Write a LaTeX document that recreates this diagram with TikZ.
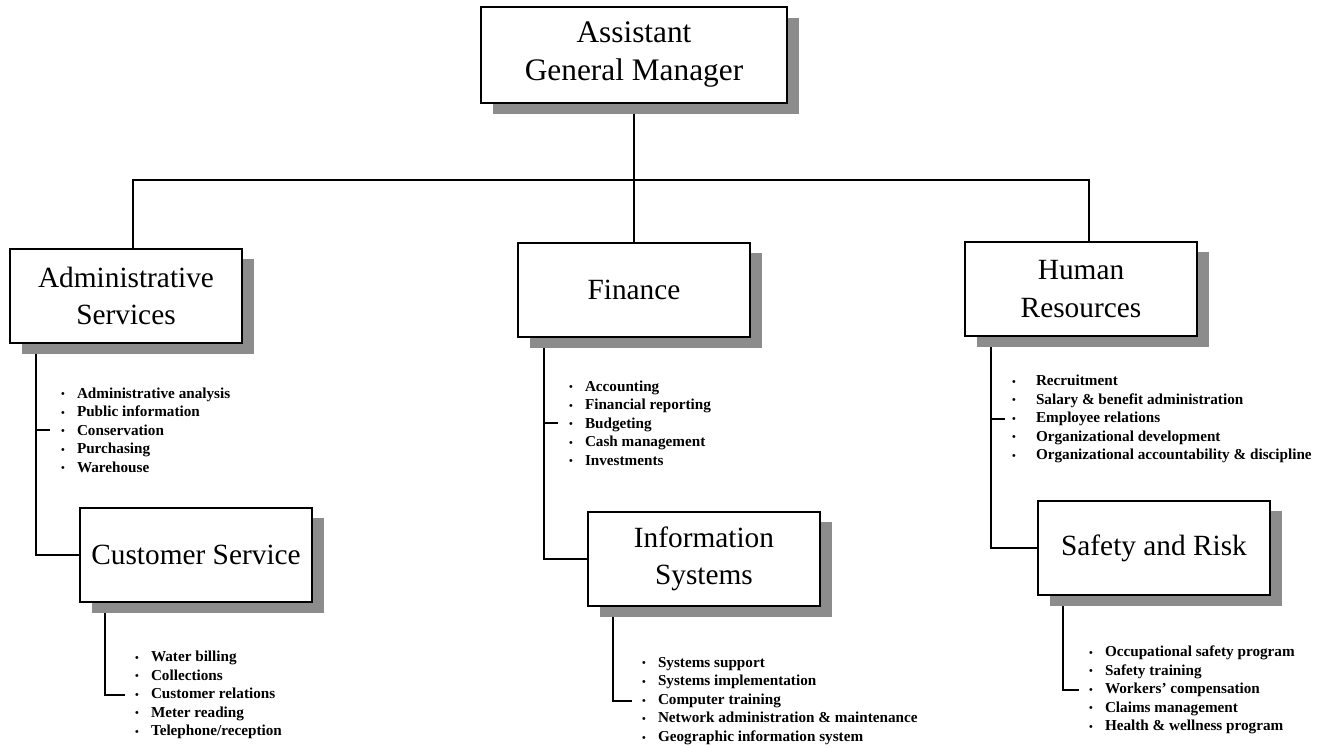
\documentclass[tikz,border=0pt]{standalone}
\usepackage{fontspec}
\setmainfont{Liberation Serif}
\usetikzlibrary{shadows,backgrounds}
\newlength{\bulletgap}
\setlength{\bulletgap}{12pt}
\newcommand{\itm}[1]{\makebox[\bulletgap][l]{\raisebox{.05ex}{\footnotesize\textbullet}}#1}

\begin{document}
\begin{tikzpicture}[x=0.75pt,y=-0.75pt,line width=1.5pt,
        box/.style = {draw,fill=white,line width=1.5pt,minimum width=174pt,minimum height=71pt,align=center,
            font = {\fontsize{22}{28}\selectfont},
            drop shadow = {shadow xshift=9pt,shadow yshift=-8pt,fill=black!45,opacity=1}},
        duties/.style = {anchor=west,align=left,inner sep=0pt,font = {\bfseries\fontsize{11.4}{13.9}\selectfont}},
        wire/.style = {line width=1.5pt}]
        \useasboundingbox (0,0) rectangle (1323,747);
        \node[box,minimum width=229pt,minimum height=72pt,text depth=6pt,font = {\fontsize{23.5}{28.5}\selectfont}] (agm) at (634,55) {Assistant\\General Manager};
        \foreach \n/\x/\y/\t in {admin/126/296/{Administrative\\Services},fin/634/290/Finance,hr/1081/289/{Human\\Resources},
            cust/196/555/Customer Service,info/704/559/{Information\\Systems},safety/1154/548/Safety and Risk}
            \node[box] (\n) at (\x,\y) {\t};

        \node[duties] (adminlist) at (60,430) {\itm{Administrative analysis}\\\itm{Public information}\\\itm{Conservation}\\\itm{Purchasing}\\\itm{Warehouse}};
        \node[duties] (finlist) at (568,423) {\itm{Accounting}\\\itm{Financial reporting}\\\itm{Budgeting}\\\itm{Cash management}\\\itm{Investments}};
        \node[duties,execute at begin node={\setlength{\bulletgap}{18pt}}] (hrlist) at (1011,419) {\itm{Recruitment}\\\itm{Salary \& benefit administration}\\\itm{Employee relations}\\\itm{Organizational development}\\\itm{Organizational accountability \& discipline}};
        \node[duties] (custlist) at (134,695) {\itm{Water billing}\\\itm{Collections}\\\itm{Customer relations}\\\itm{Meter reading}\\\itm{Telephone/reception}};
        \node[duties] (infolist) at (641,701) {\itm{Systems support}\\\itm{Systems implementation}\\\itm{Computer training}\\\itm{Network administration \& maintenance}\\\itm{Geographic information system}};
        \node[duties] (safetylist) at (1088,690) {\itm{Occupational safety program}\\\itm{Safety training}\\\itm{Workers' compensation}\\\itm{Claims management}\\\itm{Health \& wellness program}};

        \begin{pgfonlayer}{background}
        \begin{scope}[wire]
            \coordinate (bar) at (634,180);
            \draw (agm.south) -- (bar);
            \draw ([xshift=5pt]admin.north) |- (bar) -| ([xshift=6pt]hr.north);
            \draw (fin.north) -- (bar);
            \foreach \a/\b/\c in {admin/cust/adminlist,fin/info/finlist,hr/safety/hrlist} {
                \coordinate (\a-leg) at ([xshift=20pt]\a.south west);
                \draw (\a-leg) |- (\b.west);
                \draw (\a-leg |- \c.west) -- ++(11pt,0);
            }
            \foreach \b/\c in {cust/custlist,info/infolist,safety/safetylist}
                \draw ([xshift=19.5pt]\b.south west) |- ([xshift=-7pt]\c.west);
        \end{scope}
        \end{pgfonlayer}
    \end{tikzpicture}
\end{document}
